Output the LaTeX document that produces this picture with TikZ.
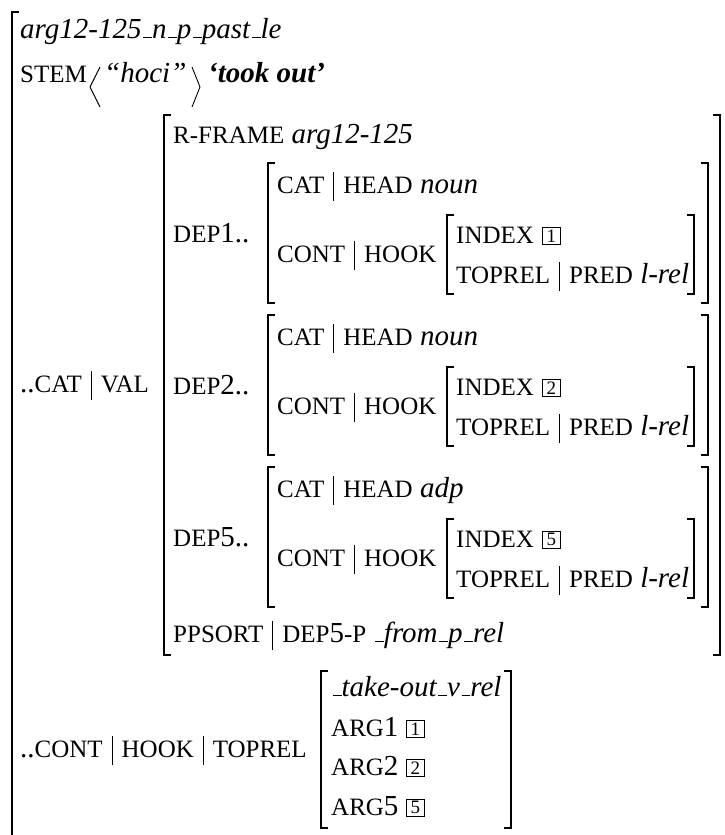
\documentclass[tikz,border=0pt]{standalone}
\usepackage{fontspec}
\setmainfont{Liberation Serif}
\newcommand\smc[1]{{\fontsize{25}{25}\selectfont #1}}
\newcommand\us{\kern0.06em\rule{0.3em}{0.9pt}}
\newcommand\vb{\hspace{9pt}\rule[-8pt]{0.9pt}{29pt}\hspace{9pt}}
\tikzset{
  txt/.style={anchor=base west, inner sep=0pt, font=\fontsize{29}{34}\selectfont},
  tag/.style={draw, line width=0.9pt, minimum width=18pt, minimum height=17.5pt,
    inner sep=0pt, anchor=south west, font=\fontsize{19}{19}\selectfont},
  br/.style={line width=1.2pt, line cap=butt, line join=miter},
  ang/.style={line width=0.9pt, line join=round}
}
\begin{document}
\begin{tikzpicture}[x=1pt,y=-1pt]
\useasboundingbox (0,0) rectangle (725,835);
% outer bracket
\draw[br] (19,12) -- (12,12) -- (12,836);
\node[txt] (t1) at (20,38) {\textit{arg12-125\us n\us p\us past\us le}};
\node[txt] (stem) at (20,82) {\smc{STEM}};
\draw[ang] (100,67) -- (90,87) -- (100,107);
\node[txt] (hoci) at (104,82) {\textit{“hoci”}};
\draw[ang] (192,67) -- (200,87) -- (192,107);
\node[txt] (took) at (208,82) {\textbf{\textit{‘took out’}}};
% VAL
\node[txt] (catval) at (20,392) {..\smc{CAT}\vb\smc{VAL}};
\draw[br] (171,115) -- (164,115) -- (164,655) -- (171,655);
\draw[br] (713,115) -- (720,115) -- (720,655) -- (713,655);
\node[txt] (rf) at (173,143) {\smc{R-FRAME} \textit{arg12-125}};
\foreach \d/\o/\h in {1/0/noun, 2/152/noun, 5/304/adp}{
  \node[txt] (dep\d) at (173,{242+\o}) {\smc{DEP}\d..};
  \node[txt] (cat\d) at (277,{193+\o}) {\smc{CAT}\vb\smc{HEAD} \textit{\h}};
  \node[txt] (cont\d) at (277,{262+\o}) {\smc{CONT}\vb\smc{HOOK}};
  \node[txt] (idx\d) at (456,{243+\o}) {\smc{INDEX}};
  \node[tag] (tagi\d) at (542,{245+\o}) {\d};
  \node[txt] (top\d) at (456,{283+\o}) {\smc{TOPREL}\vb\smc{PRED} \textit{l-rel}};
  \draw[br] (275,{163+\o}) -- (268,{163+\o}) -- (268,{303+\o}) -- (275,{303+\o});
  \draw[br] (701,{163+\o}) -- (708,{163+\o}) -- (708,{303+\o}) -- (701,{303+\o});
  \draw[br] (454,{215+\o}) -- (447,{215+\o}) -- (447,{294+\o}) -- (454,{294+\o});
  \draw[br] (687,{215+\o}) -- (694,{215+\o}) -- (694,{294+\o}) -- (687,{294+\o});
}
\node[txt] (pps) at (173,642) {\smc{PPSORT}\vb\smc{DEP}5\smc{-P} \textit{\us from\us p\us rel}};
% CONT HOOK TOPREL
\node[txt] (cht) at (20,757) {..\smc{CONT}\vb\smc{HOOK}\vb\smc{TOPREL}};
\draw[br] (328,671) -- (321,671) -- (321,828) -- (328,828);
\draw[br] (504,671) -- (511,671) -- (511,828) -- (504,828);
\node[txt] (tov) at (331,696) {\textit{\us take-out\us v\us rel}};
\node[txt] (a1) at (331,736) {\smc{ARG}1};
\node[tag] (taga1) at (406,738) {1};
\node[txt] (a2) at (331,775) {\smc{ARG}2};
\node[tag] (taga2) at (406,777) {2};
\node[txt] (a5) at (331,815) {\smc{ARG}5};
\node[tag] (taga5) at (406,817) {5};
\end{tikzpicture}
\end{document}
